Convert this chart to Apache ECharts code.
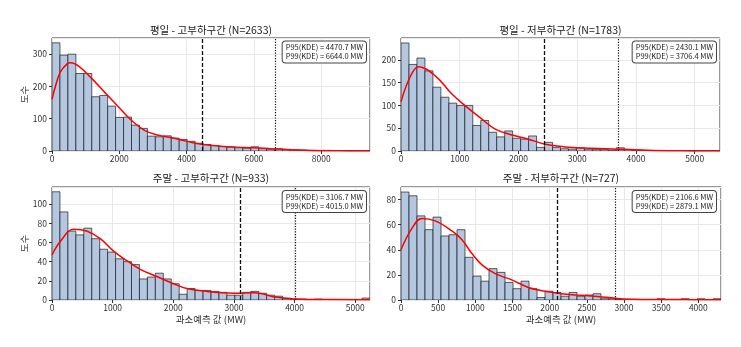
<!DOCTYPE html>
<html><head><meta charset="utf-8">
<script src="https://cdn.jsdelivr.net/npm/echarts@6/dist/echarts.min.js"></script>
<style>html,body{margin:0;padding:0;background:#fff}#c{width:741px;height:347px}</style>
</head><body><div id="c"></div>
<script>
// ---- data ----
const titles = ['평일 - 고부하구간 (N=2633)', '평일 - 저부하구간 (N=1783)', '주말 - 고부하구간 (N=933)', '주말 - 저부하구간 (N=727)'];
const xMax = [9450, 5430, 5244, 4305];
const yMax = [350, 248, 118, 90];
const xTickStep = [2000, 1000, 1000, 500];
const yTickStep = [100, 50, 20, 20];
const p95 = [4470.7, 2430.1, 3106.7, 2106.6];
const p99 = [6644.0, 3706.4, 4015.0, 2879.1];
const xAxisName = '과소예측 값 (MW)';
const yAxisName = '도수';

const countsWeekdayHigh = [335,297,300,240,240,168,172,139,104,105,80,70,46,44,47,40,36,30,24,20,17,14,12,10,9,13,7,6,7,5,4,3,2,2,2,1,1,1,0,1];
const countsWeekdayLow  = [237,190,204,176,140,118,105,100,100,56,67,41,31,44,28,26,33,8,19,8,5,4,7,4,3,3,2,7,3,2,1,1,0,1,0,0,1,0,0,1];
const countsWeekendHigh = [113,92,72,68,75,64,53,50,43,40,37,22,24,28,22,17,6,12,10,10,9,8,5,5,8,9,7,5,4,2,1,1,0,1,0,0,0,0,0,2];
const countsWeekendLow  = [86,83,67,56,66,51,52,56,34,19,15,25,22,14,9,15,9,2,7,6,3,6,3,4,5,1,1,0,0,0,0,0,1,0,0,1,0,1,0,1];

const kdeXWeekdayHigh = [0,100,250,450,550,800,1150,1580,2000,2370,2765,3160,3555,4050,4450,5000,5500,6000,6500,7000,7500,8000,8500,9450];
const kdeYWeekdayHigh = [160,200,245,270,273,262,228,180,134,94,63,49,41,29,21,15,12,10,7,4,2,1,0.5,0.2];
const kdeXWeekdayLow  = [0,157,300,583,867,1094,1377,1604,1888,2170,2454,2794,3100,3500,3800,4200,4700,5430];
const kdeYWeekdayLow  = [108,163,185,165,125,99,70,48,35,26,15,9,6.5,5,4,1.5,0.4,0.1];
const kdeXWeekendHigh = [0,137,356,571,796,1015,1235,1455,1730,2004,2224,2553,2800,2992,3322,3500,3651,3981,4300,5244];
const kdeYWeekendHigh = [47,61,74,72,64,51,41,32,24.5,17,12,9,7.5,7,7.5,6,3.5,1,0.6,0.3];
const kdeXWeekendLow  = [0,147,282,461,685,820,954,1089,1268,1490,1714,1937,2161,2365,2600,2800,3000,3300,3800,4305];
const kdeYWeekendLow  = [40,57,65,63,55,48,37,28,21,16,10,7,5,4,3,2,0.8,0.4,0.3,0.2];

const counts = [countsWeekdayHigh, countsWeekdayLow, countsWeekendHigh, countsWeekendLow];
const kdeX = [kdeXWeekdayHigh, kdeXWeekdayLow, kdeXWeekendHigh, kdeXWeekendLow];
const kdeY = [kdeYWeekdayHigh, kdeYWeekdayLow, kdeYWeekendHigh, kdeYWeekendLow];

// ---- layout ----
const gridPos = [
  {left: 52, top: 38, width: 318, height: 113},
  {left: 401, top: 38, width: 319, height: 113},
  {left: 52, top: 187, width: 318, height: 113},
  {left: 401, top: 187, width: 320, height: 113}
];
const titleY = [30, 30, 178.5, 178.5];
const boxPos = [
  {right: 374, top: 40.5}, {right: 24, top: 40.5},
  {right: 374, top: 190}, {right: 24, top: 190}
];
const FONT = '"Noto Sans CJK KR", "Noto Sans", sans-serif';

const chart = echarts.init(document.getElementById('c'), null, {renderer: 'canvas'});

function renderItem(params, api) {
  const p0 = api.coord([api.value(0), 0]);
  const p1 = api.coord([api.value(1), api.value(2)]);
  return {
    type: 'rect',
    shape: {x: p0[0], y: p1[1], width: p1[0] - p0[0], height: p0[1] - p1[1]},
    style: {fill: 'rgba(176,196,222,0.95)', stroke: 'rgba(30,30,30,0.7)', lineWidth: 1}
  };
}
const plain = v => String(v);

const grid = [], xAxis = [], yAxis = [], series = [], graphic = [];
for (let i = 0; i < 4; i++) {
  grid.push(Object.assign({show: true, borderColor: '#333', borderWidth: 1, backgroundColor: '#fff'}, gridPos[i]));
  const bottomRow = i >= 2, leftCol = i % 2 === 0;
  xAxis.push({
    type: 'value', gridIndex: i, min: 0, max: xMax[i], interval: xTickStep[i],
    name: bottomRow ? xAxisName : '', nameLocation: 'middle', nameGap: 15,
    nameTextStyle: {fontFamily: FONT, fontSize: 9.5, color: '#333'},
    axisLine: {show: false},
    axisTick: {show: true, length: 3, lineStyle: {color: '#333'}},
    axisLabel: {fontFamily: FONT, fontSize: 8.5, color: '#333', margin: 4, showMaxLabel: false, formatter: plain},
    splitLine: {show: true, lineStyle: {color: '#e8e8e8', width: 1}}
  });
  yAxis.push({
    type: 'value', gridIndex: i, min: 0, max: yMax[i], interval: yTickStep[i],
    name: leftCol ? yAxisName : '', nameLocation: 'middle', nameGap: 22, nameRotate: 90,
    nameTextStyle: {fontFamily: FONT, fontSize: 9.5, color: '#333'},
    axisLine: {show: false},
    axisTick: {show: true, length: 3, lineStyle: {color: '#333'}},
    axisLabel: {fontFamily: FONT, fontSize: 8.5, color: '#333', margin: 5, showMaxLabel: false, formatter: plain},
    splitLine: {show: true, lineStyle: {color: '#e8e8e8', width: 1}}
  });
  const w = xMax[i] / counts[i].length;
  const histData = counts[i].map((c, k) => [k * w, (k + 1) * w, c]);
  series.push({
    type: 'custom', xAxisIndex: i, yAxisIndex: i, renderItem: renderItem,
    data: histData, encode: {x: [0, 1], y: 2}, clip: true, silent: true
  });
  series.push({
    type: 'line', xAxisIndex: i, yAxisIndex: i, smooth: 0.4, showSymbol: false, symbol: 'none',
    data: kdeX[i].map((x, k) => [x, kdeY[i][k]]),
    lineStyle: {color: '#ff0000', width: 1.5}, silent: true, z: 3,
    markLine: {
      silent: true, symbol: 'none', label: {show: false},
      data: [
        {xAxis: p95[i], lineStyle: {type: [4, 2], color: '#111', width: 1.3}},
        {xAxis: p99[i], lineStyle: {type: [1.2, 1.5], color: '#111', width: 1.2}}
      ]
    }
  });
  const g = gridPos[i];
  graphic.push({
    type: 'text', x: g.left + g.width / 2, y: titleY[i], z: 10,
    style: {text: titles[i], font: '10.5px ' + FONT, fill: '#222', textAlign: 'center', textVerticalAlign: 'middle'}
  });
  graphic.push(Object.assign({
    type: 'text', z: 10,
    style: {
      text: 'P95(KDE) = ' + p95[i].toFixed(1) + ' MW\nP99(KDE) = ' + p99[i].toFixed(1) + ' MW',
      font: '7.5px ' + FONT, fill: '#222', lineHeight: 9,
      backgroundColor: '#fff', borderColor: '#444', borderWidth: 1, borderRadius: 3, padding: [1.5, 3, 1.5, 3]
    }
  }, boxPos[i]));
}

chart.setOption({animation: false, grid, xAxis, yAxis, series, graphic});
</script></body></html>
